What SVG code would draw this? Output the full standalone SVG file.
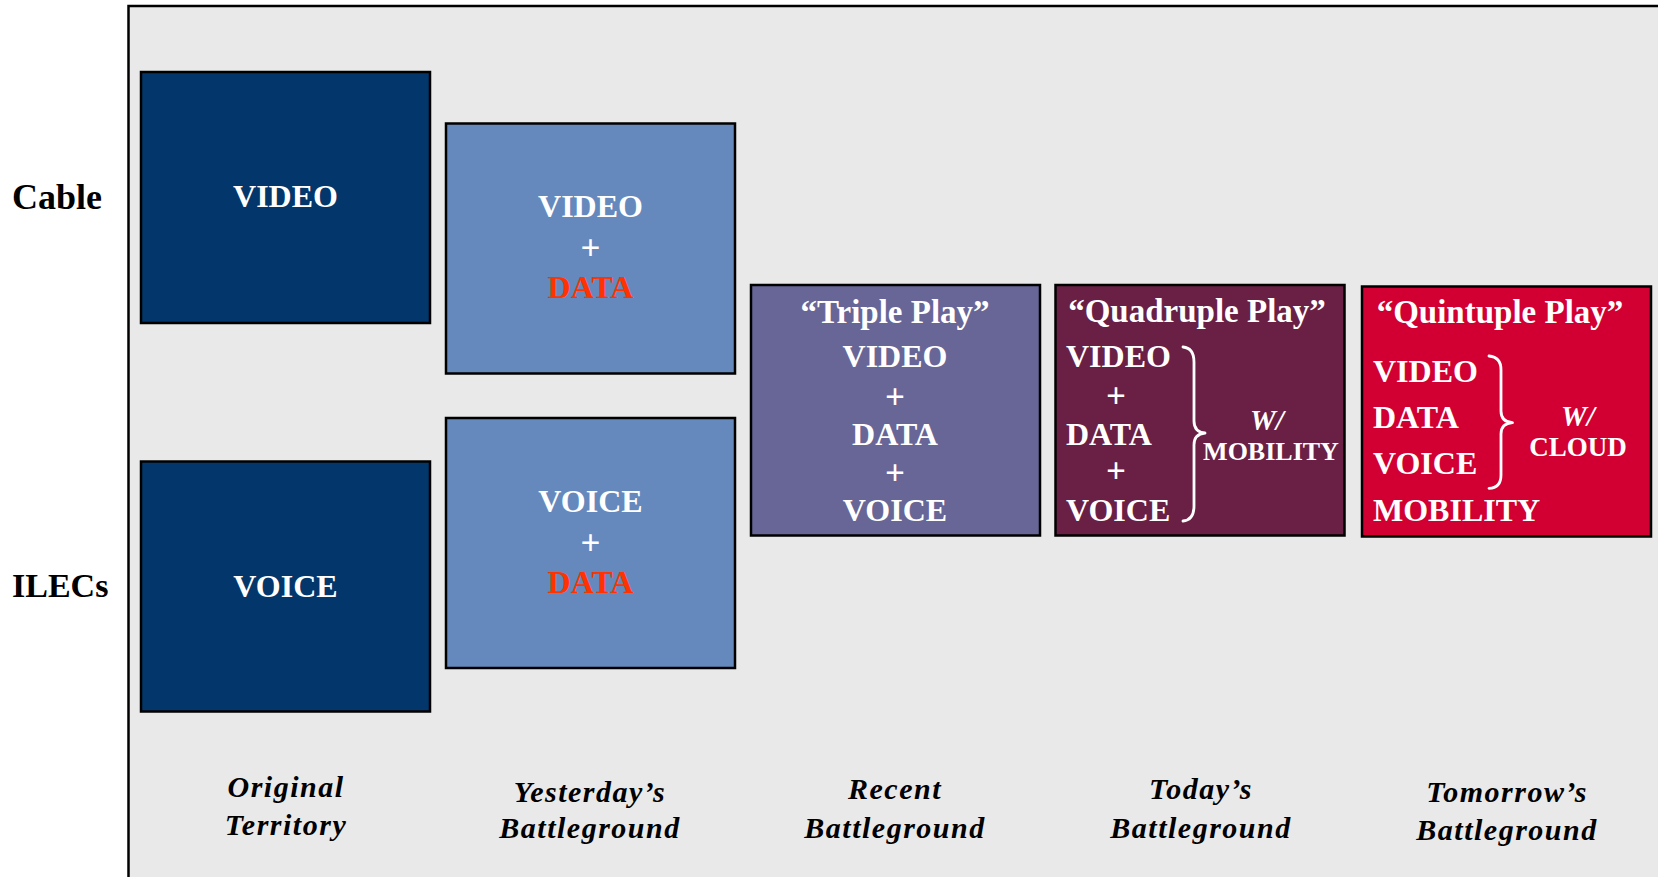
<svg xmlns="http://www.w3.org/2000/svg" width="1658" height="877" viewBox="0 0 1658 877">
  <style>
    .t { font-family: "Liberation Serif", "DejaVu Serif", serif; font-weight: bold; fill: #ffffff; font-size: 32px; }
    .c { text-anchor: middle; }
    .red { fill: #ff3300; }
    .plus { font-size: 35px; }
    .side { font-family: "Liberation Serif", "DejaVu Serif", serif; font-weight: bold; fill: #000000; font-size: 34px; }
    .lab { font-family: "Liberation Serif", "DejaVu Serif", serif; font-weight: bold; font-style: italic; fill: #000000; font-size: 30px; letter-spacing: 1.5px; text-anchor: middle; }
    .box { stroke: #000000; stroke-width: 2.5; }
    .brace { fill: none; stroke: #ffffff; stroke-width: 2.8; stroke-linecap: round; stroke-linejoin: round; }
    .title { font-size: 33px; }
    .small { font-size: 26px; }
    .w { font-size: 29px; font-style: italic; }
  </style>
  <rect x="0" y="0" width="1658" height="877" fill="#ffffff"/>
  <g id="frame">
    <rect x="128.5" y="6" width="1560" height="900" fill="#e9e9e9" stroke="#000000" stroke-width="2.5"/>
  </g>
  <g id="row-labels">
    <text class="side" x="12" y="209" style="font-size:36px">Cable</text>
    <text class="side" x="12" y="597">ILECs</text>
  </g>
  <g id="node-cable-video">
    <rect class="box" x="141" y="72" width="289" height="251" fill="#03366a"/>
    <text class="t c" x="285.5" y="207.3">VIDEO</text>
  </g>
  <g id="node-video-data">
    <rect class="box" x="446" y="123.5" width="289" height="250" fill="#6689bd"/>
    <text class="t c" x="590.5" y="217.3">VIDEO</text>
    <text class="t c plus" x="590.5" y="259.5">+</text>
    <text class="t c red" x="590.5" y="297.7">DATA</text>
  </g>
  <g id="node-voice-data">
    <rect class="box" x="446" y="418" width="289" height="250" fill="#6689bd"/>
    <text class="t c" x="590.5" y="511.7">VOICE</text>
    <text class="t c plus" x="590.5" y="554.5">+</text>
    <text class="t c red" x="590.5" y="593.3">DATA</text>
  </g>
  <g id="node-ilec-voice">
    <rect class="box" x="141" y="461.5" width="289" height="250" fill="#03366a"/>
    <text class="t c" x="285.5" y="597.3">VOICE</text>
  </g>
  <g id="node-triple">
    <rect class="box" x="751" y="285" width="289" height="250.5" fill="#676697"/>
    <text class="t c title" x="895" y="322.7">“Triple Play”</text>
    <text class="t c" x="895" y="366.7">VIDEO</text>
    <text class="t c plus" x="895" y="408.5">+</text>
    <text class="t c" x="895" y="445">DATA</text>
    <text class="t c plus" x="895" y="484.5">+</text>
    <text class="t c" x="895" y="520.7">VOICE</text>
  </g>
  <g id="node-quadruple">
    <rect class="box" x="1055.5" y="285" width="289" height="250.5" fill="#6a2045"/>
    <text class="t c title" x="1197" y="321.7">“Quadruple Play”</text>
    <text class="t" x="1066" y="366.7">VIDEO</text>
    <text class="t c plus" x="1116" y="407.5">+</text>
    <text class="t" x="1066" y="445">DATA</text>
    <text class="t c plus" x="1116" y="483">+</text>
    <text class="t" x="1066" y="520.7">VOICE</text>
    <path class="brace" d="M1183,347 Q1194,348 1194,362 L1194,421 Q1194,432 1205,433 Q1194,434 1194,445 L1194,506 Q1194,520 1183,521"/>
    <text class="t c w" x="1267" y="430">W/</text>
    <text class="t c small" x="1271" y="460">MOBILITY</text>
  </g>
  <g id="node-quintuple">
    <rect class="box" x="1362" y="286.5" width="289" height="250" fill="#d20032"/>
    <text class="t c title" x="1500" y="323.3">“Quintuple Play”</text>
    <text class="t" x="1373" y="381.7">VIDEO</text>
    <text class="t" x="1373" y="428.3">DATA</text>
    <text class="t" x="1373" y="474">VOICE</text>
    <text class="t" x="1373" y="520.7">MOBILITY</text>
    <path class="brace" d="M1489,356 Q1501,357 1501,370 L1501,411 Q1501,422 1512.5,422.7 Q1501,423.5 1501,434 L1501,475 Q1501,488 1489,488.3"/>
    <text class="t c w" x="1578" y="426">W/</text>
    <text class="t c small" x="1578" y="456" style="font-size:27px">CLOUD</text>
  </g>
  <g id="column-labels">
    <text class="lab" x="286" y="797">Original</text>
    <text class="lab" x="286" y="835">Territory</text>
    <text class="lab" x="590" y="801.5">Yesterday’s</text>
    <text class="lab" x="590" y="838.3">Battleground</text>
    <text class="lab" x="895" y="799.3">Recent</text>
    <text class="lab" x="895" y="838.3">Battleground</text>
    <text class="lab" x="1201" y="799.3">Today’s</text>
    <text class="lab" x="1201" y="838.3">Battleground</text>
    <text class="lab" x="1507" y="801.5">Tomorrow’s</text>
    <text class="lab" x="1507" y="840">Battleground</text>
  </g>
</svg>
